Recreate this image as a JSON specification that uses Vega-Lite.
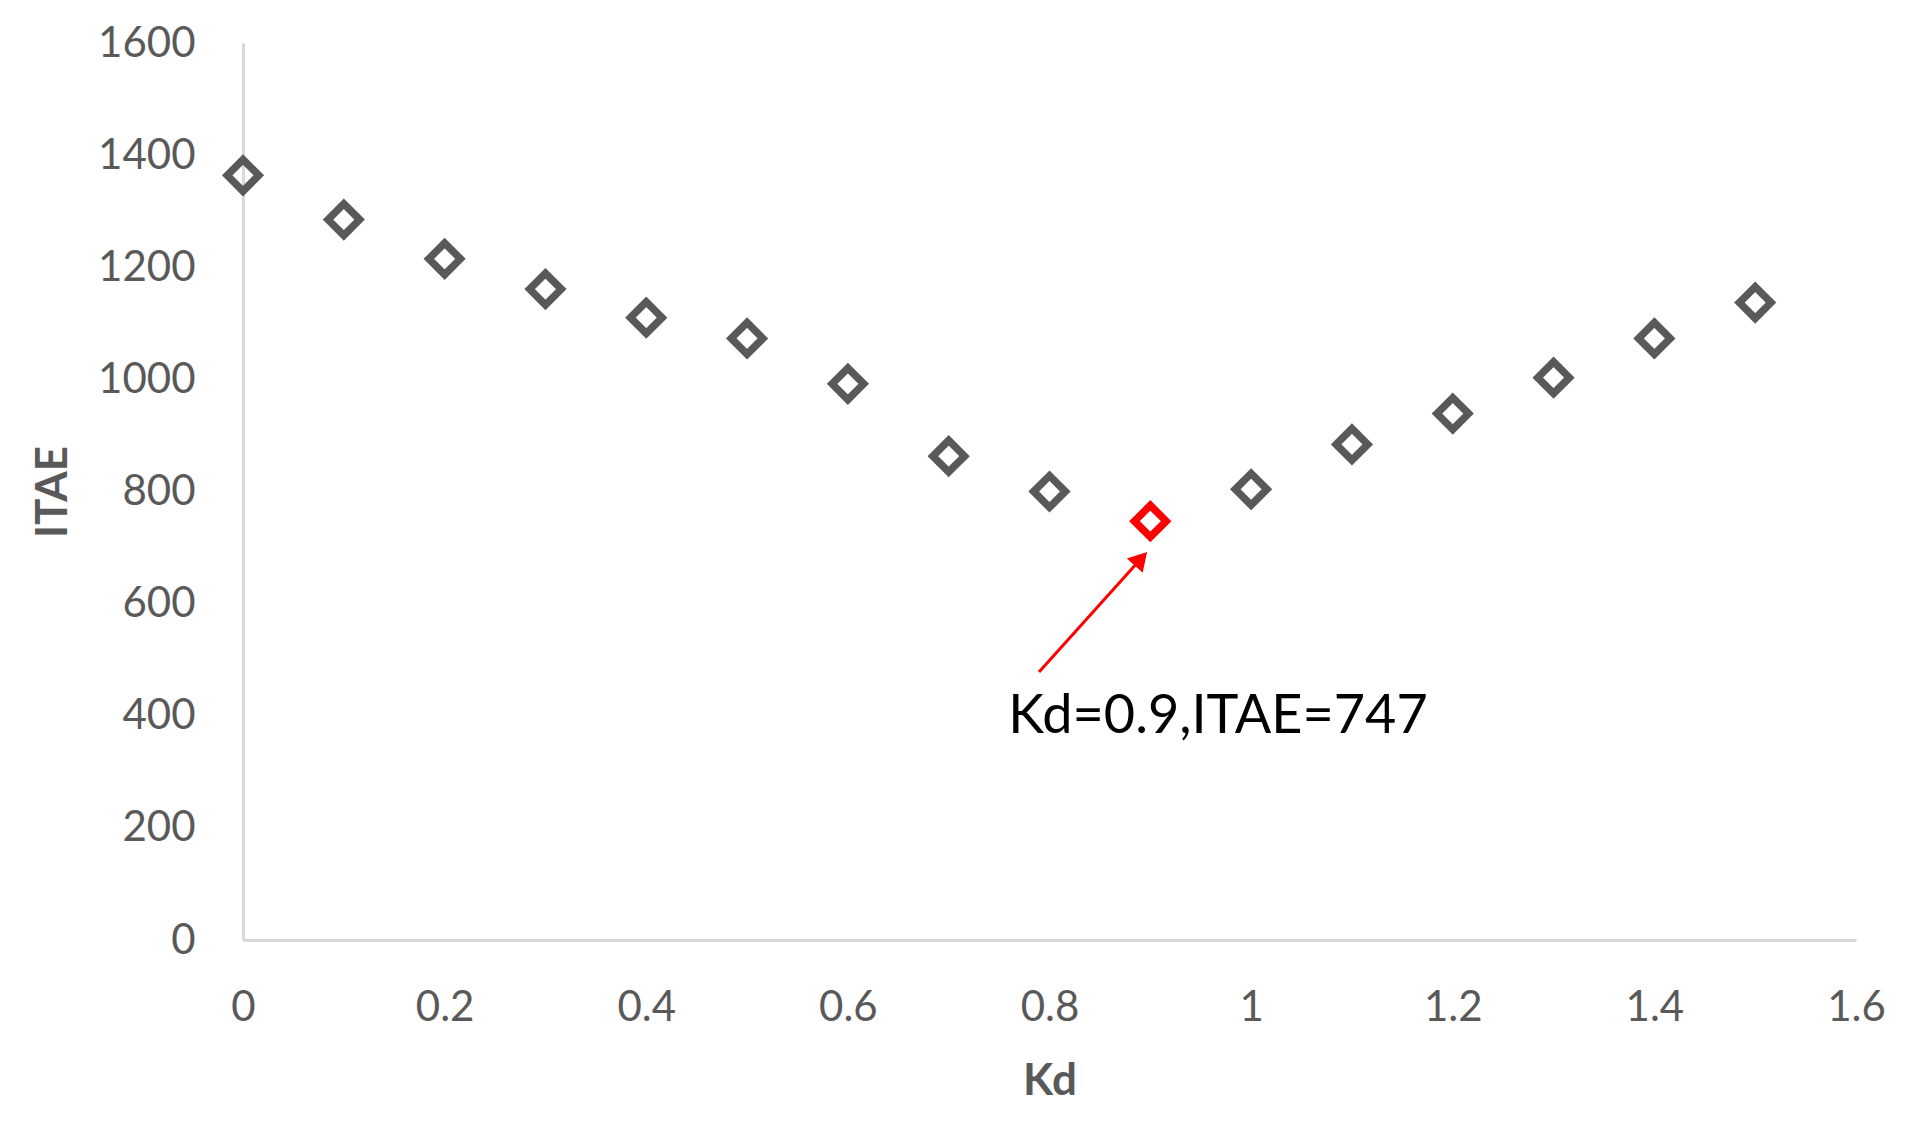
{
  "$schema": "https://vega.github.io/schema/vega-lite/v6.json",
  "autosize": {"type": "none"},
  "width": 1613,
  "height": 897,
  "padding": {"left": 243, "top": 43, "right": 66, "bottom": 183},
  "background": "white",
  "config": {
    "view": {"stroke": null},
    "font": "Lato",
    "axis": {
      "grid": false,
      "ticks": false,
      "domainColor": "#d9d9d9",
      "domainWidth": 3,
      "labelColor": "#595959",
      "labelFont": "Lato",
      "labelFontSize": 42,
      "labelFontWeight": "normal",
      "titleColor": "#595959",
      "titleFont": "Lato",
      "titleFontSize": 44,
      "titleFontWeight": "bold"
    }
  },
  "layer": [
    {
      "data": {"values": [
        {"Kd": 0.0, "ITAE": 1364, "best": "no"},
        {"Kd": 0.1, "ITAE": 1285, "best": "no"},
        {"Kd": 0.2, "ITAE": 1215, "best": "no"},
        {"Kd": 0.3, "ITAE": 1161, "best": "no"},
        {"Kd": 0.4, "ITAE": 1110, "best": "no"},
        {"Kd": 0.5, "ITAE": 1073, "best": "no"},
        {"Kd": 0.6, "ITAE": 992, "best": "no"},
        {"Kd": 0.7, "ITAE": 863, "best": "no"},
        {"Kd": 0.8, "ITAE": 800, "best": "no"},
        {"Kd": 0.9, "ITAE": 747, "best": "yes"},
        {"Kd": 1.0, "ITAE": 804, "best": "no"},
        {"Kd": 1.1, "ITAE": 884, "best": "no"},
        {"Kd": 1.2, "ITAE": 939, "best": "no"},
        {"Kd": 1.3, "ITAE": 1003, "best": "no"},
        {"Kd": 1.4, "ITAE": 1073, "best": "no"},
        {"Kd": 1.5, "ITAE": 1137, "best": "no"}
      ]},
      "mark": {"type": "point", "shape": "diamond", "filled": false, "strokeWidth": 7.5, "size": 1000, "opacity": 1},
      "encoding": {
        "x": {"field": "Kd", "type": "quantitative", "scale": {"domain": [0, 1.6], "nice": false, "zero": false},
              "axis": {"title": "Kd", "format": "~g", "values": [0, 0.2, 0.4, 0.6, 0.8, 1, 1.2, 1.4, 1.6], "labelPadding": 47, "titlePadding": 31, "labelFlush": false}},
        "y": {"field": "ITAE", "type": "quantitative", "scale": {"domain": [0, 1600], "nice": false},
              "axis": {"title": "ITAE", "format": "d", "values": [0, 200, 400, 600, 800, 1000, 1200, 1400, 1600], "labelPadding": 48, "titlePadding": 22}},
        "color": {"field": "best", "type": "nominal", "scale": {"domain": ["no", "yes"], "range": ["#595959", "#FF0000"]}, "legend": null}
      }
    },
    {
      "data": {"values": [{"Kd": 0.7896, "ITAE": 478, "Kd2": 0.8907, "ITAE2": 680}]},
      "mark": {"type": "rule", "color": "#FF0000", "strokeWidth": 3},
      "encoding": {
        "x": {"field": "Kd", "type": "quantitative", "title": "Kd"},
        "y": {"field": "ITAE", "type": "quantitative", "title": "ITAE"},
        "x2": {"field": "Kd2"},
        "y2": {"field": "ITAE2"}
      }
    },
    {
      "data": {"values": [{"Kd": 0.8907, "ITAE": 680}]},
      "mark": {"type": "point", "shape": "triangle-up", "filled": true, "color": "#FF0000", "size": 450, "angle": 42, "opacity": 1},
      "encoding": {
        "x": {"field": "Kd", "type": "quantitative", "title": "Kd"},
        "y": {"field": "ITAE", "type": "quantitative", "title": "ITAE"}
      }
    },
    {
      "data": {"values": [{"Kd": 0.759, "ITAE": 369, "label": "Kd=0.9,ITAE=747"}]},
      "mark": {"type": "text", "align": "left", "baseline": "alphabetic", "fontSize": 54, "font": "Lato", "color": "#000000"},
      "encoding": {
        "x": {"field": "Kd", "type": "quantitative", "title": "Kd"},
        "y": {"field": "ITAE", "type": "quantitative", "title": "ITAE"},
        "text": {"field": "label"}
      }
    }
  ]
}
